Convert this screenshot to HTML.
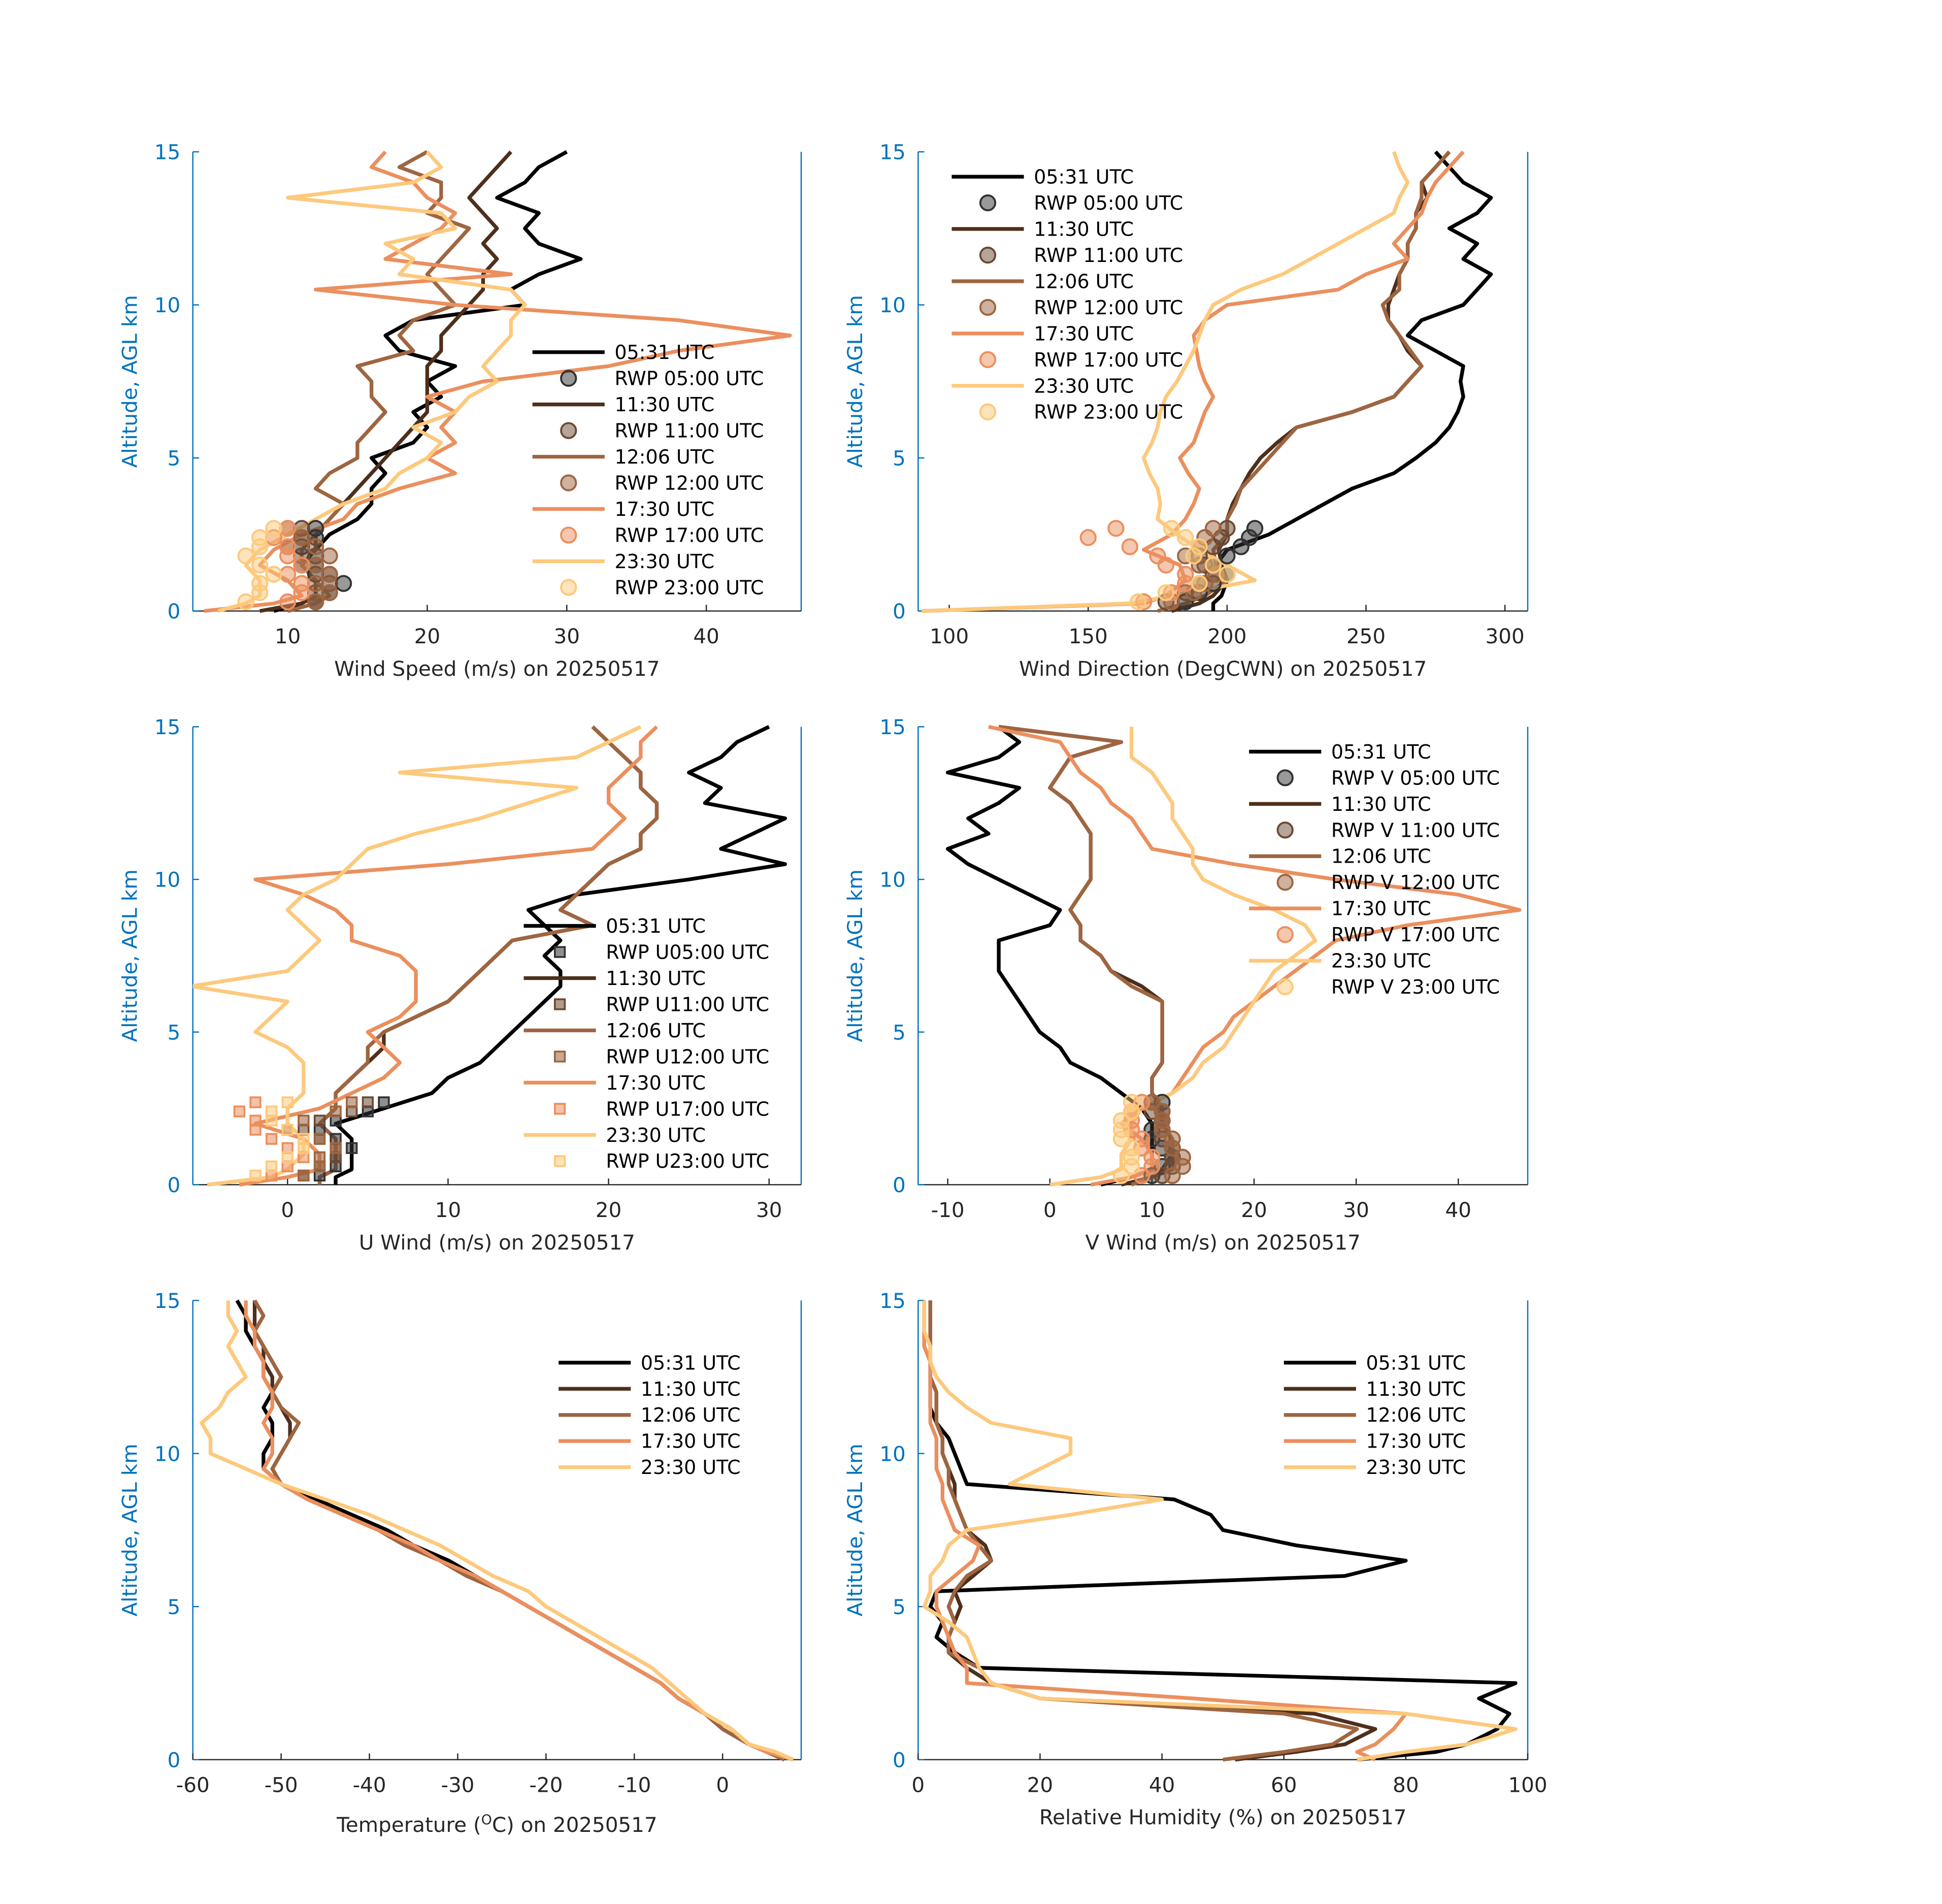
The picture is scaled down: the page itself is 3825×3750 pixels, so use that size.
<!DOCTYPE html>
<html><head><meta charset="utf-8"><style>
html,body{margin:0;padding:0;background:#fff;}
svg{display:block;}
text{font-family:"DejaVu Sans","Liberation Sans",sans-serif;}
</style></head><body>
<svg id="chart" xmlns="http://www.w3.org/2000/svg" width="3825" height="3750" viewBox="0 0 1561 1530" preserveAspectRatio="none"></svg>
<script>
// ---------- data ----------
const colors = ["#000000", "#4e2f1c", "#9e6540", "#eb8f5e", "#fdc97c"];
const timeLabels = ["05:31 UTC", "11:30 UTC", "12:06 UTC", "17:30 UTC", "23:30 UTC"];
const yTicks = [0, 5, 10, 15];

const alt = [0,0.25,0.5,1,1.5,2,2.5,3,3.5,4,4.5,5,5.5,6,6.5,7,7.5,8,8.5,9,9.5,10,10.5,11,11.5,12,12.5,13,13.5,14,14.5,15];

// Wind speed
const ws0 = [9,11,12,12,11,12,13,15,16,16,17,16,19,20,19,21,20,22,18,17,19,27,26,28,31,28,27,28,25,27,28,30];
const ws1 = [8,11,12,12,11,12,12,13,14,15,16,17,18,19,20,20,20,20,21,21,22,23,24,24,25,24,25,24,23,24,25,26];
const ws2 = [10,12,13,12,11,11,12,13,14,12,13,15,15,16,17,16,16,15,19,18,19,22,21,20,21,22,23,20,21,21,18,20];
const ws3 = [4,9,11,10,8,9,11,14,15,18,22,20,22,21,22,20,24,33,38,46,38,22,12,26,17,19,21,22,20,19,16,17];
const ws4 = [5,7,8,8,7,8,10,12,14,17,18,20,21,19,22,23,25,24,25,26,26,27,26,18,19,17,22,21,10,19,21,20];
// RWP wind speed
const rwpAlt = [0.3,0.6,0.9,1.2,1.5,1.8,2.1,2.4,2.7];
const rwpWs0 = [12,13,14,12,11,12,11,12,12];
const rwpWs1 = [12,12,13,13,12,11,10,11,11];
const rwpWs2 = [12,13,12,13,12,13,12,11,10];
const rwpWs3 = [10,11,11,10,11,10,10,9,10];
const rwpWs4 = [7,8,8,9,8,7,8,8,9];

// Wind direction
const wd0 = [195,195,198,200,196,200,215,225,235,245,260,268,275,280,283,285,284,285,275,265,270,285,290,295,285,290,280,290,295,285,280,275];
const wd1 = [180,190,195,200,198,197,200,200,202,205,208,212,218,225,245,260,265,270,265,262,258,258,260,262,265,265,268,268,272,270,275,280];
const wd2 = [175,185,192,200,196,195,200,200,203,205,210,215,220,225,245,260,265,270,266,262,258,256,262,262,265,265,268,268,270,270,275,280];
const wd3 = [90,170,178,185,183,170,180,185,188,190,186,183,188,190,192,195,192,190,189,188,192,200,240,250,265,260,265,270,272,275,280,285];
const wd4 = [90,165,180,210,200,190,182,175,176,175,172,170,173,175,176,178,182,185,188,190,192,195,205,220,230,240,250,260,262,265,262,260];
const rwpWd0 = [185,190,195,200,195,200,205,208,210];
const rwpWd1 = [178,185,190,195,192,190,195,198,200];
const rwpWd2 = [180,188,192,196,190,185,190,192,195];
const rwpWd3 = [170,180,185,185,178,175,165,150,160];
const rwpWd4 = [168,178,190,200,195,188,190,185,180];

// U wind
const u0 = [3,3,4,4,4,3,6,9,10,12,13,14,15,16,17,17,16,17,16,15,18,25,31,27,29,31,26,27,25,27,28,30];
const u1 = [2,2,3,3,3,2,3,3,4,5,6,6,8,10,11,12,13,14,19,17,18,19,20,22,22,23,23,22,22,21,20,19];
const u2 = [2,2,3,3,3,2,3,3,4,5,5,6,8,10,11,12,13,14,19,17,18,19,20,22,22,23,23,22,22,21,20,19];
const u3 = [-3,0,2,2,1,-2,2,4,6,7,6,5,7,8,8,8,7,4,4,3,1,-2,10,19,20,21,20,20,21,22,22,23];
const u4 = [-5,-1,0,1,1,0,0,1,1,1,0,-2,-1,0,-6,0,1,2,1,0,1,3,4,5,8,12,15,18,7,18,20,22];
const rwpU0 = [2,3,3,4,3,2,3,5,6];
const rwpU1 = [1,2,3,3,2,1,2,4,5];
const rwpU2 = [1,2,2,3,2,0,1,3,4];
const rwpU3 = [-1,0,1,0,-1,-2,-2,-3,-2];
const rwpU4 = [-2,-1,0,1,1,0,-1,-1,0];

// V wind
const v0 = [5,8,10,10,10,10,9,7,5,2,1,-1,-2,-3,-4,-5,-5,-5,0,1,-2,-5,-8,-10,-6,-8,-5,-3,-10,-5,-3,-5];
const v1 = [7,10,11,12,12,11,11,10,10,11,11,11,11,11,9,6,5,3,3,2,3,4,4,4,4,3,2,0,1,2,7,-5];
const v2 = [8,10,12,12,12,11,11,10,10,11,11,11,11,11,8,6,5,3,3,2,3,4,4,4,4,3,2,0,1,2,7,-5];
const v3 = [4,8,10,10,9,7,9,12,13,14,15,17,18,20,22,24,26,28,35,46,40,28,18,10,9,8,6,5,3,2,1,-6];
const v4 = [0,5,7,7,8,8,9,12,14,15,17,18,19,20,21,22,24,26,25,22,18,15,14,14,13,12,12,11,10,8,8,8];
const rwpV0 = [10,11,12,11,10,10,11,11,11];
const rwpV1 = [11,12,12,12,11,11,11,10,10];
const rwpV2 = [12,13,13,12,12,11,11,11,10];
const rwpV3 = [9,10,10,9,9,8,8,8,9];
const rwpV4 = [7,8,8,8,7,7,7,8,8];

// Temperature
const t0 = [7,5,3,1,-2,-5,-7,-10,-13,-16,-19,-22,-25,-28,-31,-35,-38,-42,-46,-50,-52,-52,-51,-51,-52,-51,-52,-52,-53,-54,-54,-55];
const t1 = [7,5,3,0,-2,-5,-7,-10,-13,-16,-19,-22,-25,-28,-32,-35,-39,-43,-47,-50,-51,-50,-49,-49,-50,-51,-51,-52,-52,-53,-53,-53];
const t2 = [7,5,3,0,-2,-5,-7,-10,-13,-16,-19,-22,-25,-29,-32,-36,-39,-43,-47,-50,-51,-50,-49,-48,-50,-51,-50,-51,-52,-53,-52,-53];
const t3 = [8,5,3,1,-2,-5,-7,-10,-13,-16,-19,-22,-25,-28,-32,-35,-39,-43,-47,-50,-52,-51,-51,-52,-51,-51,-52,-52,-53,-53,-54,-54];
const t4 = [8,6,3,1,-2,-4,-6,-8,-11,-14,-17,-20,-22,-26,-29,-32,-36,-40,-45,-50,-54,-58,-58,-59,-57,-56,-54,-55,-56,-55,-56,-56];

// Relative humidity
const rh0 = [72,85,90,95,97,92,98,10,6,3,4,2,3,70,80,62,50,48,42,8,7,6,5,3,2,2,2,2,1,1,1,1];
const rh1 = [52,62,70,75,65,20,12,8,5,5,6,7,6,9,12,11,8,7,6,6,5,4,4,3,3,3,2,2,2,2,2,2];
const rh2 = [50,60,68,72,60,20,12,10,5,5,6,5,6,8,12,10,8,7,6,5,5,4,4,3,3,3,2,2,2,2,2,2];
const rh3 = [75,72,75,78,80,45,8,8,6,5,4,3,3,6,9,10,6,5,4,4,3,3,3,2,2,2,2,2,1,1,1,1];
const rh4 = [72,80,90,98,80,20,12,10,9,8,5,1,2,2,4,5,8,25,40,15,20,25,25,12,8,5,3,2,2,1,1,1];

// ---------- drawing ----------
const svg = document.getElementById('chart');
const NS = "http://www.w3.org/2000/svg";
function el(tag, attrs, parent) {
  const e = document.createElementNS(NS, tag);
  for (const k in attrs) e.setAttribute(k, attrs[k]);
  (parent || svg).appendChild(e);
  return e;
}

function makeAxes(p) {
  const g = el('g', {});
  
  
  p.sx = v => p.x0 + (v - p.xmin) / (p.xmax - p.xmin) * (p.x1 - p.x0);
  p.sy = v => p.y1 - v / 15 * (p.y1 - p.y0);
  p.g = g;
  const la = el('line', {x1:p.x0, y1:p.y0, x2:p.x0, y2:p.y1, stroke:'#0072BD', 'stroke-width':1}, g);
  
  
  const ra = el('line', {x1:p.x1, y1:p.y0, x2:p.x1, y2:p.y1, stroke:'#0072BD', 'stroke-width':1}, g);
  
  
  const ba = el('line', {x1:p.x0, y1:p.y1, x2:p.x1, y2:p.y1, stroke:'#262626', 'stroke-width':1}, g);
  
  
  yTicks.forEach(t => {
    const y = p.sy(t);
    el('line', {x1:p.x0, y1:y, x2:p.x0+5, y2:y, stroke:'#0072BD'}, g);
    const tx = el('text', {x:p.x0-10, y:y+6, 'text-anchor':'end', 'font-size':16.5, fill:'#0072BD'}, g);
    tx.textContent = t;
    
    
  });
  p.xticks.forEach(t => {
    const x = p.sx(t);
    el('line', {x1:x, y1:p.y1, x2:x, y2:p.y1-5, stroke:'#262626'}, g);
    const tx = el('text', {x:x, y:p.y1+26, 'text-anchor':'middle', 'font-size':16.5, fill:'#262626'}, g);
    tx.textContent = t;
    
    
  });
  const yt = el('text', {x:0, y:0, 'text-anchor':'middle', 'font-size':16.5, fill:'#0072BD',
    transform:`translate(${p.x0-45},${(p.y0+p.y1)/2}) rotate(-90)`}, g);
  yt.textContent = 'Altitude, AGL km';
  
  
  const xt = el('text', {x:(p.x0+p.x1)/2, y:p.y1+p.titleDy, 'text-anchor':'middle', 'font-size':16.5, fill:'#262626'}, g);
  xt.innerHTML = p.xtitle;
  
  
  const clip = el('clipPath', {id:'clip-'+p.name}, g);
  el('rect', {x:p.x0, y:p.y0-2, width:p.x1-p.x0, height:p.y1-p.y0+4}, clip);
  p.plot = el('g', {'clip-path':'url(#clip-'+p.name+')'}, g);
  return p;
}

function drawLine(p, xs, ys, color, name) {
  const d = xs.map((v,i) => (i?'L':'M') + p.sx(v).toFixed(1) + ',' + p.sy(ys[i]).toFixed(1)).join(' ');
  const path = el('path', {d:d, fill:'none', stroke:color, 'stroke-width':3, 'stroke-linejoin':'round'}, p.plot);
  
  
}
function drawMarkers(p, xs, ys, color, name, square) {
  xs.forEach((v,i) => {
    const x = p.sx(v), y = p.sy(ys[i]);
    let m;
    if (square) m = el('rect', {x:x-4, y:y-4, width:8, height:8, fill:color, 'fill-opacity':0.55, stroke:color, 'stroke-width':1.5}, p.plot);
    else m = el('circle', {cx:x, cy:y, r:6, fill:color, 'fill-opacity':0.5, stroke:color, 'stroke-width':1.6}, p.plot);
    
    
  });
}
function legend(p, lx, ly, entries) {
  const g = el('g', {}, p.g);
  
  
  entries.forEach((e, i) => {
    const y = ly + i * 21;
    if (e.type === 'line') el('line', {x1:lx, y1:y, x2:lx+58, y2:y, stroke:e.color, 'stroke-width':3}, g);
    else if (e.type === 'sq') el('rect', {x:lx+25, y:y-4, width:8, height:8, fill:e.color, 'fill-opacity':0.55, stroke:e.color, 'stroke-width':1.5}, g);
    else el('circle', {cx:lx+29, cy:y, r:6, fill:e.color, 'fill-opacity':0.5, stroke:e.color, 'stroke-width':1.6}, g);
    const t = el('text', {x:lx+66, y:y+5.5, 'font-size':15.5, fill:'#000'}, g);
    t.textContent = e.label;
    
    
  });
}
const markerColors = ["#333333", "#6b4a35", "#9e6540", "#eb8f5e", "#fdc97c"];

// Panel 1
const p1 = makeAxes({name:'wind-speed-panel', x0:155, x1:644, y0:122, y1:491, xmin:3.2, xmax:46.8, xticks:[10,20,30,40], xtitle:'Wind Speed (m/s) on 20250517', titleDy:52});
[ws0,ws1,ws2,ws3,ws4].forEach((s,i) => drawLine(p1, s, alt, colors[i], 'wind-speed-line-'+i));
[rwpWs0,rwpWs1,rwpWs2,rwpWs3,rwpWs4].forEach((s,i) => drawMarkers(p1, s, rwpAlt, markerColors[i], 'rwp-speed-marker', false));
legend(p1, 428, 283, [
 {type:'line',color:colors[0],label:'05:31 UTC'},{type:'c',color:markerColors[0],label:'RWP 05:00 UTC'},
 {type:'line',color:colors[1],label:'11:30 UTC'},{type:'c',color:markerColors[1],label:'RWP 11:00 UTC'},
 {type:'line',color:colors[2],label:'12:06 UTC'},{type:'c',color:markerColors[2],label:'RWP 12:00 UTC'},
 {type:'line',color:colors[3],label:'17:30 UTC'},{type:'c',color:markerColors[3],label:'RWP 17:00 UTC'},
 {type:'line',color:colors[4],label:'23:30 UTC'},{type:'c',color:markerColors[4],label:'RWP 23:00 UTC'}]);

// Panel 2
const p2 = makeAxes({name:'wind-direction-panel', x0:738, x1:1228, y0:122, y1:491, xmin:88.8, xmax:308.2, xticks:[100,150,200,250,300], xtitle:'Wind Direction (DegCWN) on 20250517', titleDy:52});
[wd0,wd1,wd2,wd3,wd4].forEach((s,i) => drawLine(p2, s, alt, colors[i], 'wind-direction-line-'+i));
[rwpWd0,rwpWd1,rwpWd2,rwpWd3,rwpWd4].forEach((s,i) => drawMarkers(p2, s, rwpAlt, markerColors[i], 'rwp-direction-marker', false));
legend(p2, 765, 142, [
 {type:'line',color:colors[0],label:'05:31 UTC'},{type:'c',color:markerColors[0],label:'RWP 05:00 UTC'},
 {type:'line',color:colors[1],label:'11:30 UTC'},{type:'c',color:markerColors[1],label:'RWP 11:00 UTC'},
 {type:'line',color:colors[2],label:'12:06 UTC'},{type:'c',color:markerColors[2],label:'RWP 12:00 UTC'},
 {type:'line',color:colors[3],label:'17:30 UTC'},{type:'c',color:markerColors[3],label:'RWP 17:00 UTC'},
 {type:'line',color:colors[4],label:'23:30 UTC'},{type:'c',color:markerColors[4],label:'RWP 23:00 UTC'}]);

// Panel 3
const p3 = makeAxes({name:'u-wind-panel', x0:155, x1:644, y0:584, y1:952, xmin:-5.9, xmax:32, xticks:[0,10,20,30], xtitle:'U Wind (m/s) on 20250517', titleDy:52});
[u0,u1,u2,u3,u4].forEach((s,i) => drawLine(p3, s, alt, colors[i], 'u-wind-line-'+i));
[rwpU0,rwpU1,rwpU2,rwpU3,rwpU4].forEach((s,i) => drawMarkers(p3, s, rwpAlt, markerColors[i], 'rwp-u-marker', true));
legend(p3, 421, 744, [
 {type:'line',color:colors[0],label:'05:31 UTC'},{type:'sq',color:markerColors[0],label:'RWP U05:00 UTC'},
 {type:'line',color:colors[1],label:'11:30 UTC'},{type:'sq',color:markerColors[1],label:'RWP U11:00 UTC'},
 {type:'line',color:colors[2],label:'12:06 UTC'},{type:'sq',color:markerColors[2],label:'RWP U12:00 UTC'},
 {type:'line',color:colors[3],label:'17:30 UTC'},{type:'sq',color:markerColors[3],label:'RWP U17:00 UTC'},
 {type:'line',color:colors[4],label:'23:30 UTC'},{type:'sq',color:markerColors[4],label:'RWP U23:00 UTC'}]);

// Panel 4
const p4 = makeAxes({name:'v-wind-panel', x0:738, x1:1228, y0:584, y1:952, xmin:-12.9, xmax:46.8, xticks:[-10,0,10,20,30,40], xtitle:'V Wind (m/s) on 20250517', titleDy:52});
[v0,v1,v2,v3,v4].forEach((s,i) => drawLine(p4, s, alt, colors[i], 'v-wind-line-'+i));
[rwpV0,rwpV1,rwpV2,rwpV3,rwpV4].forEach((s,i) => drawMarkers(p4, s, rwpAlt, markerColors[i], 'rwp-v-marker', false));
legend(p4, 1004, 604, [
 {type:'line',color:colors[0],label:'05:31 UTC'},{type:'c',color:markerColors[0],label:'RWP V 05:00 UTC'},
 {type:'line',color:colors[1],label:'11:30 UTC'},{type:'c',color:markerColors[1],label:'RWP V 11:00 UTC'},
 {type:'line',color:colors[2],label:'12:06 UTC'},{type:'c',color:markerColors[2],label:'RWP V 12:00 UTC'},
 {type:'line',color:colors[3],label:'17:30 UTC'},{type:'c',color:markerColors[3],label:'RWP V 17:00 UTC'},
 {type:'line',color:colors[4],label:'23:30 UTC'},{type:'c',color:markerColors[4],label:'RWP V 23:00 UTC'}]);

// Panel 5
const p5 = makeAxes({name:'temperature-panel', x0:155, x1:644, y0:1045, y1:1414, xmin:-60, xmax:8.9, xticks:[-60,-50,-40,-30,-20,-10,0], xtitle:'Temperature (<tspan baseline-shift="super" font-size="11">O</tspan>C) on 20250517', titleDy:58});
[t0,t1,t2,t3,t4].forEach((s,i) => drawLine(p5, s, alt, colors[i], 'temperature-line-'+i));
legend(p5, 449, 1095, timeLabels.map((l,i) => ({type:'line',color:colors[i],label:l})));

// Panel 6
const p6 = makeAxes({name:'relative-humidity-panel', x0:738, x1:1228, y0:1045, y1:1414, xmin:0, xmax:100, xticks:[0,20,40,60,80,100], xtitle:'Relative Humidity (%) on 20250517', titleDy:52});
[rh0,rh1,rh2,rh3,rh4].forEach((s,i) => drawLine(p6, s, alt, colors[i], 'humidity-line-'+i));
legend(p6, 1032, 1095, timeLabels.map((l,i) => ({type:'line',color:colors[i],label:l})));
</script>
</body></html>
